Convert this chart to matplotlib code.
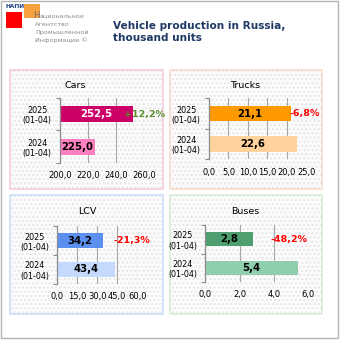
import matplotlib
matplotlib.use("Agg")
import matplotlib.pyplot as plt
from matplotlib.patches import Rectangle
from matplotlib.ticker import FixedLocator

# ---- data ----
categories = ["2024\n(01-04)", "2025\n(01-04)"]
panel_names = ["Cars", "Trucks", "LCV", "Buses"]
cars = [225.0, 252.5]
trucks = [22.6, 21.1]
lcv = [43.4, 34.2]
buses = [5.4, 2.8]
changes = ["+12,2%", "-6,8%", "-21,3%", "-48,2%"]
cars_ticks = [200, 220, 240, 260]
trucks_ticks = [0, 5, 10, 15, 20, 25]
lcv_ticks = [0, 15, 30, 45, 60]
buses_ticks = [0, 2, 4, 6]

W = H = 340
fig = plt.figure(figsize=(3.4, 3.4), dpi=100)
fig.patch.set_facecolor("white")

def fr(x0, y0, x1, y1):
    return [x0 / W, 1 - y1 / H, (x1 - x0) / W, (y1 - y0) / H]

def rect(x0, y0, x1, y1, ec, fc="none", lw=1, hatch=None, z=-5):
    r = Rectangle((x0 / W, 1 - y1 / H), (x1 - x0) / W, (y1 - y0) / H,
                  transform=fig.transFigure, ec=ec, fc=fc, lw=lw, hatch=hatch, zorder=z)
    fig.patches.append(r)

# outer frame
rect(1, 1, 338, 338, "#b4b4b4", lw=1, z=-1)

# logo
rect(6, 12, 22, 28, "none", fc="#ff0000", lw=0, z=-1)
rect(24, 4, 40, 18, "none", fc="#f7a040", lw=0, z=-1)
fig.text(6 / W, 1 - 7 / H, "НАПИ", fontsize=4.2, color="#1f3f7f", va="center", fontweight="bold")
fig.text(33 / W, 1 - 15 / H, "Н", fontsize=6.3, color="#6e6e6e", va="center")
fig.text(39.5 / W, 1 - 16 / H, "ациональное", fontsize=4.6, color="#8a8a8a", va="center")
logo_lines = ["Агентство", "Промышленной", "Информации ©"]
for i, t in enumerate(logo_lines):
    fig.text(35 / W, 1 - (24 + i * 8) / H, t, fontsize=4.6, color="#8a8a8a", va="center")

# title
fig.text(113 / W, 1 - 32 / H, "Vehicle production in Russia,\nthousand units",
         fontsize=7.6, fontweight="bold", color="#1f3864", va="center", ha="left",
         linespacing=1.3)

panels = [
    dict(name=panel_names[0], data=cars, ticks=cars_ticks, xlim=(200, 260),
         box=(10, 70, 163, 189), ax=(60, 97.7, 144, 163), border="#f4c8da",
         colors=["#ff80c0", "#cc0066"], title=(75, 86), pct=1.01,
         tcol=["#000000", "#ffffff"], pcol="#5a9030"),
    dict(name=panel_names[1], data=trucks, ticks=trucks_ticks, xlim=(0, 25),
         box=(170, 70, 322, 189), ax=(209, 98.3, 306.3, 159.3), border="#f8d8c8",
         colors=["#ffd39b", "#ff9900"], title=(245, 86), pct=0.985,
         tcol=["#000000", "#000000"], pcol="#ff0000"),
    dict(name=panel_names[2], data=lcv, ticks=lcv_ticks, xlim=(0, 60),
         box=(10, 195, 163, 314), ax=(57.3, 226, 137.3, 284), border="#c8dcf8",
         colors=["#c5d9ff", "#5b8ff0"], title=(87, 211), pct=0.93,
         tcol=["#000000", "#000000"], pcol="#ff0000"),
    dict(name=panel_names[3], data=buses, ticks=buses_ticks, xlim=(0, 6),
         box=(170, 195, 322, 314), ax=(205.3, 225, 308.3, 282), border="#d4ecd4",
         colors=["#90cfac", "#4e9e70"], title=(245, 211), pct=0.81,
         tcol=["#000000", "#000000"], pcol="#ff0000"),
]

for i, p in enumerate(panels):
    bx = p["box"]
    rect(*bx, "none", fc="#fcfcfc", lw=0, z=-4)
    rect(*bx, "#e6e6e6", fc="none", lw=0, hatch="....", z=-3)
    rect(*bx, p["border"], fc="none", lw=1.1, z=-2)
    fig.text(p["title"][0] / W, 1 - p["title"][1] / H, p["name"], fontsize=6.8,
             ha="center", va="center", color="#000000")
    ax = fig.add_axes(fr(*p["ax"]))
    ax.set_facecolor("none")
    ypos = [0, 1]
    x0 = p["xlim"][0]
    ax.barh(ypos, [v - x0 for v in p["data"]], left=x0, height=0.5,
            color=p["colors"], zorder=3)
    for j, v in enumerate(p["data"]):
        ax.text((x0 + v) / 2, j, f"{v:.1f}".replace(".", ","),
                ha="center", va="center", fontsize=7.3, fontweight="bold",
                color=p["tcol"][j], zorder=4)
    ax.text(p["pct"], 1, changes[i], transform=ax.get_yaxis_transform(),
            ha="center", va="center", fontsize=6.8, fontweight="bold",
            color=p["pcol"], zorder=5, clip_on=False)
    ax.set_xlim(*p["xlim"])
    ax.set_ylim(-0.5, 1.5)
    ax.set_xticks(p["ticks"])
    ax.set_xticklabels([f"{t:.1f}".replace(".", ",") for t in p["ticks"]], fontsize=6)
    ax.set_yticks(ypos)
    ax.set_yticklabels(categories, fontsize=5.8, multialignment="center")
    ax.yaxis.set_minor_locator(FixedLocator([-0.5, 0.5, 1.5]))
    ax.tick_params(axis="y", which="major", length=0, pad=6)
    ax.tick_params(axis="y", which="minor", length=3, color="#8c8c8c", width=0.8)
    ax.tick_params(axis="x", length=0, pad=6)
    ax.grid(axis="x", color="#a6a6a6", lw=0.8, zorder=1)
    for s in ["top", "right", "bottom"]:
        ax.spines[s].set_visible(False)
    ax.spines["left"].set_color("#8c8c8c")
    ax.spines["left"].set_linewidth(0.9)
    ax.spines["left"].set_zorder(4)

fig.savefig("out.png", dpi=100, facecolor="white")
